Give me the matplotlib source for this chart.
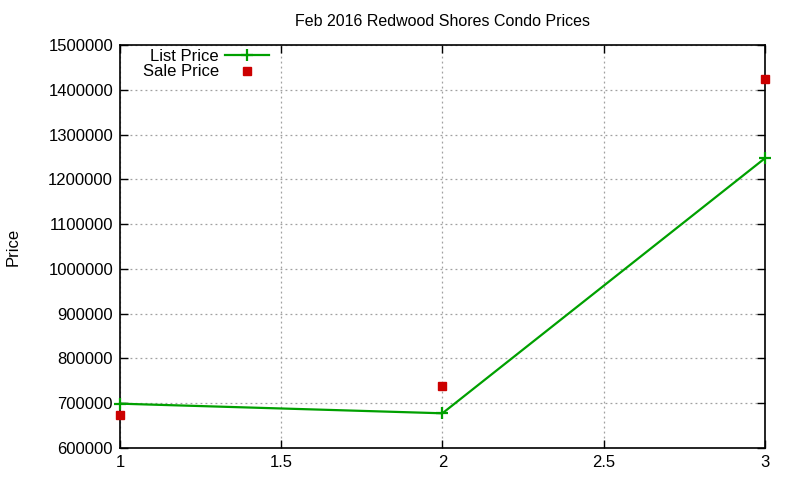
import matplotlib
matplotlib.use("Agg")
import matplotlib.pyplot as plt

# 数据
x_vals = [1, 2, 3]
list_price = [699000, 677500, 1247000]
sale_price = [674000, 739000, 1424000]

plt.rcParams["font.family"] = ["Liberation Sans", "DejaVu Sans"]
plt.rcParams["font.size"] = 12

fig = plt.figure(figsize=(8, 4.8), dpi=100)
ax = fig.add_axes([0.15, 0.0667, 0.806, 0.8393])

ax.plot(x_vals, list_price, color="#00a000", lw=1.6, marker="+", ms=9, mew=1.6,
        label="List Price", clip_on=False, zorder=3)
ax.plot(x_vals, sale_price, ls="none", marker="s", ms=6, color="#cc0000",
        label="Sale Price", clip_on=False, zorder=4)

ax.set_xlim(1, 3)
ax.set_ylim(600000, 1500000)
ax.set_xticks([1, 1.5, 2, 2.5, 3])
ax.set_xticklabels(["1", "1.5", "2", "2.5", "3"])
ax.set_yticks(range(600000, 1500001, 100000))
ax.ticklabel_format(axis="y", style="plain", useOffset=False)
ax.tick_params(direction="in", top=True, right=True, length=6, width=1, pad=5)
ax.grid(True, color="#a0a0a0", ls=(0, (1.5, 2.5)), lw=0.9)
for s in ax.spines.values():
    s.set_linewidth(1.2)

ax.set_ylabel("Price", labelpad=20)
ax.set_title("Feb 2016 Redwood Shores Condo Prices", fontsize=11.5, pad=14)

leg = ax.legend(loc="upper left", bbox_to_anchor=(0.022, 1.012), frameon=False,
                markerfirst=False, handlelength=2.6, borderaxespad=0.1,
                labelspacing=0.05, handletextpad=0.4)
for t in leg.get_texts():
    t.set_ha("right")

fig.savefig("out.png", dpi=100)
